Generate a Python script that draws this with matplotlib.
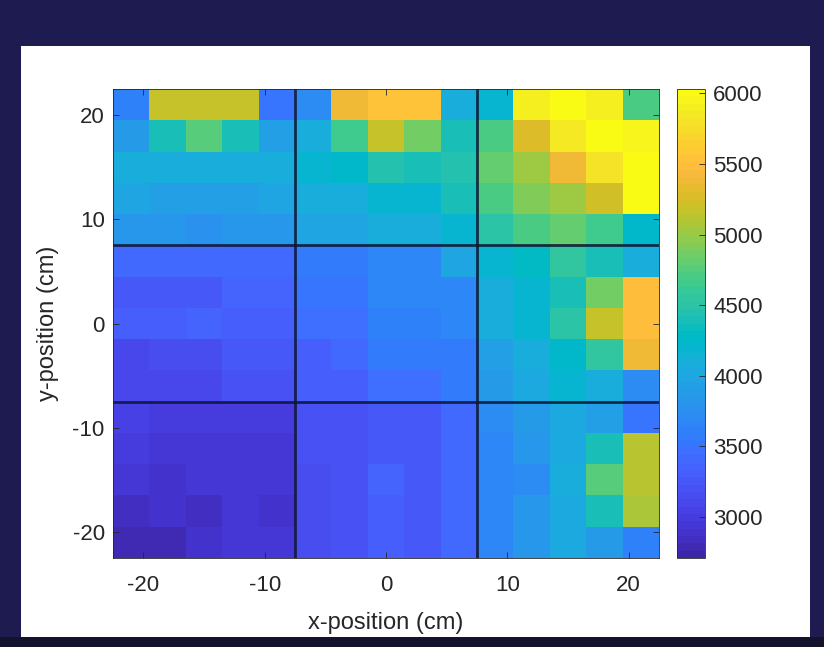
import numpy as np
import matplotlib
matplotlib.use("Agg")
import matplotlib.pyplot as plt
from matplotlib.colors import ListedColormap
from matplotlib.patches import Rectangle

# cell centres (cm)
x_centers = [-21, -18, -15, -12, -9, -6, -3, 0, 3, 6, 9, 12, 15, 18, 21]
y_centers = [21, 18, 15, 12, 9, 6, 3, 0, -3, -6, -9, -12, -15, -18, -21]

# readings, one row per y position (top row first)
readings = [
    [3600, 5150, 5150, 5150, 3520, 3700, 5400, 5520, 5520, 4080, 4200, 5920, 6020, 5900, 4700],
    [3900, 4400, 4780, 4400, 3950, 4100, 4680, 5150, 4850, 4420, 4700, 5260, 5850, 5980, 5930],
    [4080, 4070, 4060, 4070, 4080, 4200, 4260, 4440, 4400, 4460, 4830, 5020, 5380, 5780, 6000],
    [3960, 3950, 3930, 3950, 3960, 4100, 4100, 4200, 4200, 4400, 4720, 4930, 5020, 5200, 5980],
    [3800, 3800, 3790, 3800, 3820, 3960, 3960, 4080, 4080, 4200, 4500, 4730, 4820, 4650, 4230],
    [3400, 3400, 3400, 3410, 3410, 3570, 3570, 3680, 3680, 3960, 4200, 4300, 4550, 4420, 4080],
    [3280, 3280, 3270, 3370, 3370, 3520, 3520, 3670, 3670, 3690, 4100, 4200, 4420, 4850, 5500],
    [3300, 3300, 3340, 3290, 3290, 3450, 3450, 3630, 3630, 3690, 4080, 4180, 4480, 5180, 5480],
    [3090, 3140, 3140, 3240, 3240, 3330, 3430, 3540, 3540, 3540, 3940, 4060, 4250, 4560, 5360],
    [3100, 3090, 3090, 3180, 3180, 3290, 3290, 3470, 3470, 3570, 3900, 4020, 4200, 4080, 3730],
    [3040, 2970, 2970, 2970, 3000, 3200, 3200, 3250, 3250, 3400, 3730, 3880, 4040, 3930, 3500],
    [2980, 2930, 2960, 2960, 2960, 3180, 3200, 3270, 3250, 3400, 3690, 3820, 4020, 4380, 5130],
    [2930, 2870, 2920, 2920, 2940, 3130, 3190, 3360, 3250, 3400, 3690, 3720, 4080, 4770, 5130],
    [2830, 2900, 2820, 2920, 2900, 3170, 3200, 3290, 3260, 3400, 3650, 3820, 4020, 4390, 5080],
    [2790, 2800, 2900, 2920, 2920, 3150, 3180, 3290, 3270, 3430, 3660, 3820, 4040, 3860, 3600],
]

# region boundaries drawn over the map (cm)
divider_positions = [-7.5, 7.5]

axis_ticks = [-20, -10, 0, 10, 20]
colorbar_ticks = [3000, 3500, 4000, 4500, 5000, 5500, 6000]

# MATLAB parula, 64 entries
parula_data = [
    [0.2422, 0.1504, 0.6603], [0.2504, 0.1650, 0.7076], [0.2578, 0.1818, 0.7511], [0.2647, 0.1978, 0.7952],
    [0.2706, 0.2147, 0.8364], [0.2751, 0.2342, 0.8710], [0.2783, 0.2559, 0.8991], [0.2803, 0.2782, 0.9221],
    [0.2813, 0.3006, 0.9414], [0.2810, 0.3228, 0.9579], [0.2795, 0.3447, 0.9717], [0.2760, 0.3667, 0.9829],
    [0.2699, 0.3892, 0.9906], [0.2602, 0.4123, 0.9952], [0.2440, 0.4358, 0.9988], [0.2206, 0.4603, 0.9973],
    [0.1963, 0.4847, 0.9892], [0.1834, 0.5074, 0.9798], [0.1786, 0.5289, 0.9682], [0.1764, 0.5499, 0.9520],
    [0.1687, 0.5703, 0.9359], [0.1540, 0.5902, 0.9218], [0.1460, 0.6091, 0.9079], [0.1380, 0.6276, 0.8973],
    [0.1248, 0.6459, 0.8883], [0.1113, 0.6635, 0.8763], [0.0952, 0.6798, 0.8598], [0.0689, 0.6948, 0.8394],
    [0.0297, 0.7082, 0.8163], [0.0036, 0.7203, 0.7917], [0.0067, 0.7312, 0.7660], [0.0433, 0.7411, 0.7394],
    [0.0964, 0.7500, 0.7120], [0.1408, 0.7584, 0.6842], [0.1717, 0.7670, 0.6554], [0.1938, 0.7758, 0.6251],
    [0.2161, 0.7843, 0.5923], [0.2470, 0.7918, 0.5567], [0.2906, 0.7973, 0.5188], [0.3406, 0.8008, 0.4789],
    [0.3909, 0.8029, 0.4354], [0.4456, 0.8024, 0.3909], [0.5044, 0.7993, 0.3480], [0.5616, 0.7942, 0.3045],
    [0.6174, 0.7876, 0.2612], [0.6720, 0.7793, 0.2227], [0.7242, 0.7698, 0.1910], [0.7738, 0.7598, 0.1646],
    [0.8203, 0.7498, 0.1535], [0.8634, 0.7406, 0.1596], [0.9035, 0.7330, 0.1774], [0.9393, 0.7288, 0.2100],
    [0.9728, 0.7298, 0.2394], [0.9956, 0.7434, 0.2371], [0.9970, 0.7659, 0.2199], [0.9952, 0.7893, 0.2028],
    [0.9892, 0.8136, 0.1885], [0.9786, 0.8386, 0.1766], [0.9676, 0.8639, 0.1643], [0.9610, 0.8890, 0.1537],
    [0.9597, 0.9135, 0.1423], [0.9628, 0.9373, 0.1265], [0.9691, 0.9606, 0.1064], [0.9769, 0.9839, 0.0805],
]
parula = ListedColormap(parula_data, name="parula")

plt.rcParams["font.family"] = ["Liberation Sans", "DejaVu Sans"]
plt.rcParams["axes.unicode_minus"] = False

W, H = 824, 647
fig = plt.figure(figsize=(W / 100, H / 100), dpi=100)
fig.patch.set_facecolor("#1d1b4f")

# darker strip under the panel, like the screenshot backdrop
fig.add_artist(Rectangle((0, 0), 1, (H - 637) / H, transform=fig.transFigure,
                         facecolor="#14132e", edgecolor="none", zorder=-11))

# white figure panel sitting on the dark backdrop (behind the axes)
panel = Rectangle((21 / W, 1 - 637 / H), (810 - 21) / W, (637 - 46) / H,
                  transform=fig.transFigure, facecolor="white", edgecolor="none", zorder=-10)
fig.add_artist(panel)

ax = fig.add_axes([113 / W, 1 - 558 / H, (659 - 113) / W, (558 - 89) / H])
cax = fig.add_axes([677 / W, 1 - 558 / H, (705 - 677) / W, (558 - 89) / H])

# cell edges from the centres
x = np.array(x_centers, dtype=float)
y = np.array(y_centers, dtype=float)
dx = x[1] - x[0]
dy = y[1] - y[0]
x_edges = np.append(x - dx / 2, x[-1] + dx / 2)
y_edges = np.append(y - dy / 2, y[-1] + dy / 2)

mesh = ax.pcolormesh(x_edges, y_edges, np.array(readings), cmap=parula, vmin=2710, vmax=6030)

for p in divider_positions:
    ax.axvline(p, color="#0d1530", lw=2, alpha=0.85)
    ax.axhline(p, color="#0d1530", lw=2, alpha=0.85)

ax.set_xlim(x_edges.min(), x_edges.max())
ax.set_ylim(min(y_edges), max(y_edges))
ax.set_xticks(axis_ticks)
ax.set_yticks(axis_ticks)
ax.tick_params(direction="in", top=True, right=True, labelsize=16, colors="#262626", length=4, width=0.6)
ax.tick_params(axis="x", pad=12)
ax.tick_params(axis="y", pad=6)
for s in ax.spines.values():
    s.set_color("#262626")
    s.set_linewidth(0.6)
ax.set_xlabel("x-position (cm)", fontsize=17, color="#262626", labelpad=12)
ax.set_ylabel("y-position (cm)", fontsize=17, color="#262626", labelpad=10)

cb = fig.colorbar(mesh, cax=cax)
cb.set_ticks(colorbar_ticks)
cb.ax.tick_params(direction="in", labelsize=16, colors="#262626", length=4, width=0.6, pad=6)
cb.outline.set_edgecolor("#262626")
cb.outline.set_linewidth(0.6)

fig.savefig("out.png", dpi=100, facecolor=fig.get_facecolor())
